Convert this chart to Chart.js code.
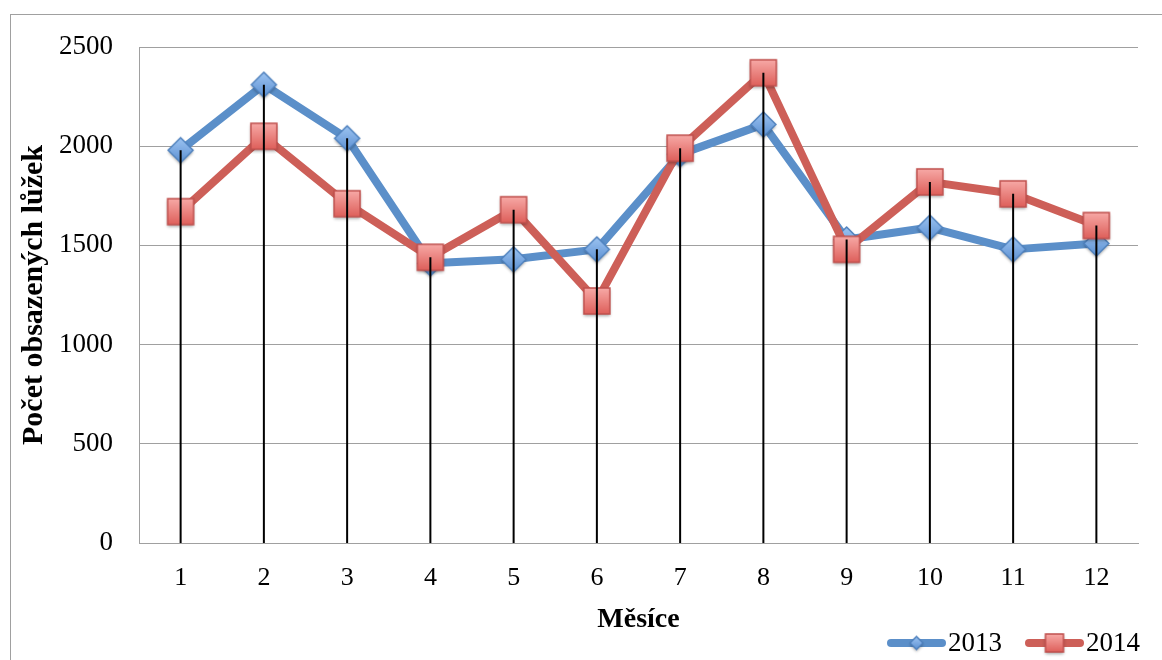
<!DOCTYPE html>
<html>
<head>
<meta charset="utf-8">
<script src="https://cdn.jsdelivr.net/npm/chart.js@4/dist/chart.umd.min.js"></script>
<style>
  html, body { margin: 0; padding: 0; background: #ffffff; }
  #wrap { width: 1162px; height: 660px; position: relative; }
</style>
</head>
<body>
<div id="wrap"><canvas id="chart" width="1162" height="660"></canvas></div>
<script>
// Months on the category axis
const months = ['1', '2', '3', '4', '5', '6', '7', '8', '9', '10', '11', '12'];
// Occupied beds per month
const beds2013 = [1980, 2310, 2040, 1410, 1430, 1480, 1960, 2110, 1530, 1590, 1480, 1510];
const beds2014 = [1670, 2050, 1710, 1440, 1680, 1220, 1990, 2370, 1480, 1820, 1760, 1600];
// Value axis ticks
const yTicks = [0, 500, 1000, 1500, 2000, 2500];

const serif = '"Liberation Serif", "DejaVu Serif", serif';

// Marker sprites with a soft vertical gradient, outline and drop shadow
function makeMarker(shape, size, top, bottom, stroke) {
  const pad = 5;
  const c = document.createElement('canvas');
  c.width = size + pad * 2;
  c.height = size + pad * 2;
  const g = c.getContext('2d');
  const cx = c.width / 2, cy = c.height / 2, h = size / 2;
  g.beginPath();
  if (shape === 'diamond') {
    g.moveTo(cx, cy - h); g.lineTo(cx + h, cy); g.lineTo(cx, cy + h); g.lineTo(cx - h, cy);
  } else {
    g.rect(cx - h, cy - h, size, size);
  }
  g.closePath();
  const grad = g.createLinearGradient(0, cy - h, 0, cy + h);
  grad.addColorStop(0, top);
  grad.addColorStop(1, bottom);
  g.save();
  g.shadowColor = 'rgba(0,0,0,0.35)';
  g.shadowBlur = 3;
  g.shadowOffsetY = 2;
  g.fillStyle = grad;
  g.fill();
  g.restore();
  g.lineWidth = 1.5;
  g.strokeStyle = stroke;
  g.stroke();
  return c;
}

const blueLine = '#5B8FC9';
const redLine = '#CD5F58';
const diamond = makeMarker('diamond', 25, '#9DC4F2', '#5C90D2', '#4F81BD');
const square = makeMarker('square', 26, '#F7A9A6', '#DE5F5A', '#C0504D');
const diamondSmall = makeMarker('diamond', 13, '#9DC4F2', '#5C90D2', '#4F81BD');
const squareSmall = makeMarker('square', 18, '#F7A9A6', '#DE5F5A', '#C0504D');

// Frame around the whole chart
const framePlugin = {
  id: 'frame',
  beforeDraw(chart) {
    const ctx = chart.ctx;
    ctx.save();
    ctx.fillStyle = '#ffffff';
    ctx.fillRect(0, 0, chart.width, chart.height);
    ctx.strokeStyle = '#A0A0A0';
    ctx.lineWidth = 1;
    ctx.strokeRect(10.5, 14.5, chart.width, chart.height);
    ctx.restore();
  }
};

// Vertical drop lines from the highest point of each month down to the axis
const dropLinePlugin = {
  id: 'dropLines',
  afterDatasetsDraw(chart) {
    const ctx = chart.ctx;
    const bottom = chart.chartArea.bottom;
    const metas = chart.getSortedVisibleDatasetMetas();
    if (!metas.length) return;
    ctx.save();
    ctx.strokeStyle = '#000000';
    ctx.lineWidth = 2;
    metas[0].data.forEach((pt, i) => {
      let top = pt.y;
      metas.forEach(m => { if (m.data[i]) top = Math.min(top, m.data[i].y); });
      ctx.beginPath();
      ctx.moveTo(pt.x, top);
      ctx.lineTo(pt.x, bottom);
      ctx.stroke();
    });
    ctx.restore();
  }
};

// Legend in the lower right corner: line sample with marker, then the series name
const legendPlugin = {
  id: 'lineLegend',
  afterDraw(chart) {
    const ctx = chart.ctx;
    const y = 643;
    let x = 887;
    ctx.save();
    ctx.font = '27px ' + serif;
    ctx.textBaseline = 'middle';
    ctx.textAlign = 'left';
    chart.data.datasets.forEach(ds => {
      const lineW = 59;
      ctx.strokeStyle = ds.borderColor;
      ctx.lineWidth = 8;
      ctx.lineCap = 'round';
      ctx.beginPath();
      ctx.moveTo(x + 4, y);
      ctx.lineTo(x + lineW - 4, y);
      ctx.stroke();
      const img = ds.legendMarker;
      ctx.drawImage(img, x + lineW / 2 - img.width / 2, y - img.height / 2);
      ctx.fillStyle = '#000000';
      ctx.fillText(ds.label, x + lineW + 2, y + 1);
      x += lineW + 2 + ctx.measureText(ds.label).width + 23;
    });
    ctx.restore();
  }
};

new Chart(document.getElementById('chart'), {
  type: 'line',
  data: {
    labels: months,
    datasets: [
      {
        label: '2013',
        data: beds2013,
        borderColor: blueLine,
        backgroundColor: blueLine,
        borderWidth: 8,
        borderJoinStyle: 'round',
        borderCapStyle: 'round',
        tension: 0,
        pointStyle: diamond,
        legendMarker: diamondSmall,
        order: 1
      },
      {
        label: '2014',
        data: beds2014,
        borderColor: redLine,
        backgroundColor: redLine,
        borderWidth: 8,
        borderJoinStyle: 'round',
        borderCapStyle: 'round',
        tension: 0,
        pointStyle: square,
        legendMarker: squareSmall,
        order: 0
      }
    ]
  },
  options: {
    responsive: false,
    animation: false,
    events: [],
    layout: { padding: { left: 0, top: 47, right: 24, bottom: 0 } },
    plugins: {
      legend: { display: false },
      tooltip: { enabled: false },
      title: { display: false }
    },
    scales: {
      x: {
        type: 'category',
        offset: true,
        grid: { display: false, drawTicks: false },
        border: { display: true, color: '#A0A0A0', width: 1 },
        ticks: { color: '#000000', padding: 20, font: { family: serif, size: 26 } },
        title: {
          display: true,
          text: 'Měsíce',
          color: '#000000',
          font: { family: serif, size: 28, weight: 'bold' },
          padding: { top: 0, bottom: 23 }
        },
        afterFit(scale) { scale.height = 117; }
      },
      y: {
        min: 0,
        max: 2500,
        afterBuildTicks(scale) { scale.ticks = yTicks.map(v => ({ value: v })); },
        grid: { color: '#A0A0A0', lineWidth: 1, drawTicks: false },
        border: { display: true, color: '#A0A0A0', width: 1 },
        ticks: {
          color: '#000000',
          padding: 26,
          font: { family: serif, size: 27 },
          callback: v => String(v)
        },
        title: {
          display: true,
          text: 'Počet obsazených lůžek',
          color: '#000000',
          font: { family: serif, size: 30, weight: 'bold' },
          padding: { top: 16, bottom: 0 }
        },
        afterFit(scale) { scale.width = 139; }
      }
    }
  },
  plugins: [framePlugin, dropLinePlugin, legendPlugin]
});
</script>
</body>
</html>
